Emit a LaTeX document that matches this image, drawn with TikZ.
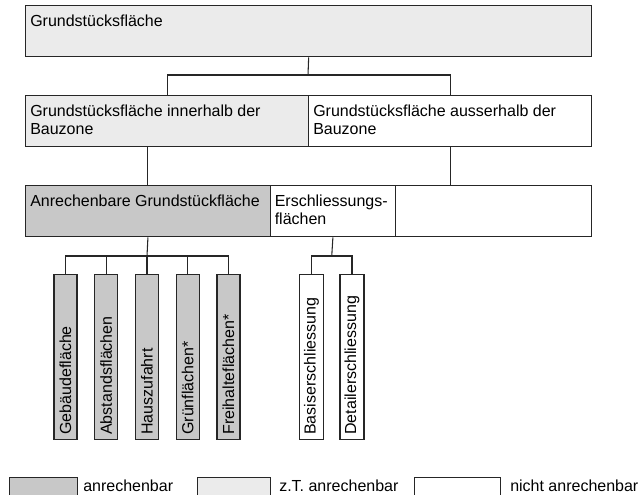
\documentclass[tikz,border=0pt]{standalone}
\usepackage{fontspec}
\setmainfont{Liberation Sans}
\definecolor{lgray}{HTML}{EBEBEB}
\definecolor{mgray}{HTML}{C8C8C8}
\definecolor{edge}{HTML}{262626}

\begin{document}
\begin{tikzpicture}[
    x=0.75pt, y=-0.75pt,
    box/.style={rectangle, draw=edge, line width=1pt, anchor=north west, minimum height=38.25pt, inner sep=0pt},
    txt/.style={anchor=north west, align=left, inner xsep=3.75pt, inner ysep=7pt, font=\fontsize{12}{13.5}\selectfont},
    col/.style={rectangle, draw=edge, line width=1pt, rotate=90, anchor=west, minimum height=17.25pt, text width=116.75pt, inner xsep=3.5pt, align=left, font=\fontsize{12}{14}\selectfont},
    legbox/.style={rectangle, draw=edge, line width=1pt, anchor=north west, minimum height=18pt, inner sep=0pt},
    legtxt/.style={anchor=west, inner sep=0pt, font=\fontsize{12}{14}\selectfont},
    link/.style={draw=edge, line width=0.8pt}
]
    \useasboundingbox (0,0) rectangle (640,494);
    \clip (0,0) rectangle (640,494);

    % boxes
    \node[box, fill=lgray, minimum width=424.5pt, label={[txt]north west:Grundstücksfläche}] (top) at (25,5) {};
    \node[box, fill=lgray, minimum width=212.25pt, label={[txt]north west:{Grundstücksfläche innerhalb der\\Bauzone}}] (inner) at (25,95) {};
    \node[box, fill=white, minimum width=212.25pt, label={[txt]north west:{Grundstücksfläche ausserhalb der\\Bauzone}}] (outer) at (308,95) {};
    \node[box, fill=mgray, minimum width=183.4pt, label={[txt]north west:Anrechenbare Grundstückfläche}] (anr) at (25,185) {};
    \node[box, fill=white, minimum width=94.1pt, label={[txt]north west:{Erschliessungs-\\flächen}}] (ersch) at (269.5,185) {};
    \node[box, fill=white, minimum width=147pt] (rest) at (395,185) {};

    % columns
    \foreach \name/\cx/\label in {geb/65.5/Gebäudefläche, abst/106.25/Abstandsflächen, haus/147/Hauszufahrt, gruen/187.75/Grünflächen*, frei/228.5/Freihalteflächen*}
        \node[col, fill=mgray] (\name) at (\cx,440) {\label};
    \node[col, fill=white] (basis) at (311.5,440) {Basiserschliessung};
    \node[col, fill=white] (detail) at (352,440) {Detailerschliessung};

    % connectors
    \coordinate (j1) at (308,75);
    \draw[link] (top.south) -- (j1);
    \draw[link] (inner.north) |- (j1) -| (outer.north);
    \draw[link] (inner.south -| anr.north) -- (anr.north);
    \draw[link] (outer.south) -- (outer.south |- rest.north);

    \coordinate (j2) at (147,256);
    \draw[link] (anr.south) -- (j2);
    \draw[link] (geb.east) |- (j2) -| (frei.east);
    \draw[link] (abst.east) -- (abst.east |- j2);
    \draw[link] (haus.east) -- (j2);
    \draw[link] (gruen.east) -- (gruen.east |- j2);

    \coordinate (j3) at (331.75,256);
    \draw[link] (ersch.south) -- (j3);
    \draw[link] (basis.east) |- (j3) -| (detail.east);

    % legend
    \node[legbox, fill=mgray, minimum width=51pt] (leg1) at (9,477) {};
    \node[legtxt] (legtxt1) at (83,486) {anrechenbar};
    \node[legbox, fill=lgray, minimum width=54.75pt] (leg2) at (197,477) {};
    \node[legtxt] (legtxt2) at (279,486) {z.T. anrechenbar};
    \node[legbox, fill=white, minimum width=64.5pt] (leg3) at (414,477) {};
    \node[legtxt] (legtxt3) at (510,486) {nicht anrechenbar};
\end{tikzpicture}
\end{document}
